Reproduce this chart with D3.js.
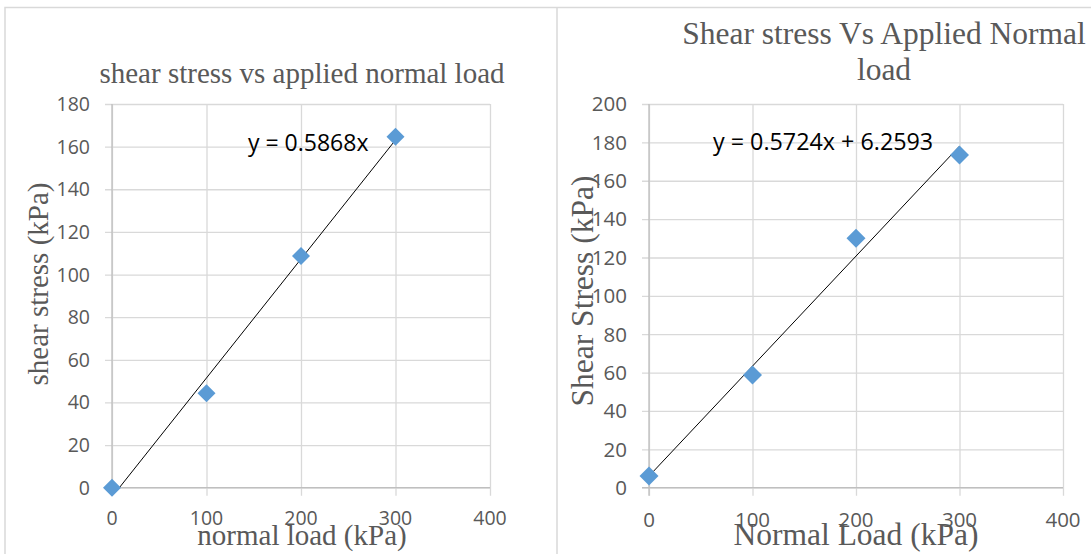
<!DOCTYPE html>
<html>
<head>
<meta charset="utf-8">
<script src="https://cdn.jsdelivr.net/npm/d3@7"></script>
<style>
  html, body { margin: 0; padding: 0; background: #fff; }
  svg { display: block; }
  .tick-label { font-family: "Open Sans", "Liberation Sans", sans-serif; fill: #595959; }
  .serif { font-family: "Liberation Serif", "DejaVu Serif", serif; fill: #595959; }
  .eq { font-family: "Open Sans", "Liberation Sans", sans-serif; fill: #000; }
</style>
</head>
<body>
<script>
// Direct shear test results: normal load (kPa) against measured shear stress (kPa)
const normalLoad = [0, 100, 200, 300];

const shearStressA = [0, 44.3, 108.7, 164.6];
const shearStressB = [6.1, 58.7, 130, 173.4];

const xTicks = [0, 100, 200, 300, 400];
const yTicksA = [0, 20, 40, 60, 80, 100, 120, 140, 160, 180];
const yTicksB = [0, 20, 40, 60, 80, 100, 120, 140, 160, 180, 200];

const equationA = "y = 0.5868x";
const equationB = "y = 0.5724x + 6.2593";

const W = 1091, H = 554;
const svg = d3.select("body").append("svg").attr("width", W).attr("height", H);

// Panel frames
const frame = svg.append("g").attr("fill", "none").attr("stroke", "#d9d9d9").attr("stroke-width", 1.5);
frame.append("path").attr("d", `M5,${H + 2}V7.5H${W + 2}`);
frame.append("line").attr("x1", 557).attr("x2", 557).attr("y1", 7.5).attr("y2", H + 2);

// Least-squares line through the points
function linearFit(xs, ys) {
  const mx = d3.mean(xs), my = d3.mean(ys);
  let sxy = 0, sxx = 0;
  xs.forEach((x, i) => { sxy += (x - mx) * (ys[i] - my); sxx += (x - mx) * (x - mx); });
  const m = sxy / sxx;
  return { m, b: my - m * mx };
}

function drawChart(cfg) {
  const g = svg.append("g");
  const x = d3.scaleLinear().domain([0, 400]).range([cfg.x0, cfg.x1]);
  const y = d3.scaleLinear().domain([0, cfg.yMax]).range([cfg.y0, cfg.y1]);

  // horizontal gridlines + y ticks
  const yAxis = d3.axisLeft(y).tickValues(cfg.yTicks).tickSize(-(cfg.x1 - cfg.x0)).tickFormat("");
  const gy = g.append("g").attr("transform", `translate(${cfg.x0},0)`).call(yAxis);
  gy.select(".domain").remove();
  gy.selectAll(".tick line").attr("stroke", "#d9d9d9").attr("stroke-width", 1.3)
    .attr("x1", -7);
  // vertical gridlines + x ticks
  const xAxis = d3.axisBottom(x).tickValues(xTicks).tickSize(-(cfg.y0 - cfg.y1)).tickFormat("");
  const gx = g.append("g").attr("transform", `translate(0,${cfg.y0})`).call(xAxis);
  gx.select(".domain").remove();
  gx.selectAll(".tick line").attr("stroke", "#d9d9d9").attr("stroke-width", 1.3)
    .attr("y1", 8);

  // axis lines
  g.append("line").attr("x1", x(0)).attr("x2", x(0)).attr("y1", cfg.y1).attr("y2", cfg.y0 + 8)
    .attr("stroke", "#bfbfbf").attr("stroke-width", 1.3);
  g.append("line").attr("x1", cfg.x0 - 7).attr("x2", cfg.x1).attr("y1", y(0)).attr("y2", y(0))
    .attr("stroke", "#bfbfbf").attr("stroke-width", 1.3);

  // tick labels
  g.append("g").selectAll("text").data(cfg.yTicks).join("text")
    .attr("class", "tick-label").attr("x", cfg.x0 - 22).attr("y", d => y(d))
    .attr("dy", "0.36em").attr("text-anchor", "end").attr("font-size", cfg.tickSize).text(d => d);
  g.append("g").selectAll("text").data(xTicks).join("text")
    .attr("class", "tick-label").attr("x", d => x(d)).attr("y", cfg.xLabelY)
    .attr("text-anchor", "middle").attr("font-size", cfg.tickSize).text(d => d);

  // trendline, clipped to the plot's y range
  const fit = linearFit(normalLoad, cfg.values);
  const xa = Math.max(0, -fit.b / fit.m), xb = d3.max(normalLoad);
  g.append("line").attr("x1", x(xa)).attr("y1", y(fit.m * xa + fit.b))
    .attr("x2", x(xb)).attr("y2", y(fit.m * xb + fit.b))
    .attr("stroke", "#000").attr("stroke-width", 1);

  // markers
  const diamond = d3.symbol().type(d3.symbolSquare).size(cfg.marker * cfg.marker * 2);
  g.append("g").selectAll("path").data(cfg.values).join("path")
    .attr("d", diamond)
    .attr("transform", (d, i) => `translate(${x(normalLoad[i])},${y(d)}) rotate(45)`)
    .attr("fill", "#5b9bd5");

  // equation
  g.append("text").attr("class", "eq").attr("x", cfg.eqX).attr("y", cfg.eqY)
    .attr("font-size", cfg.eqSize).text(cfg.equation);

  // titles
  cfg.title.forEach((t, i) => {
    g.append("text").attr("class", "serif").attr("x", cfg.titleX).attr("y", cfg.titleY + i * cfg.titleLead)
      .attr("text-anchor", "middle").attr("font-size", cfg.titleSize).text(t);
  });
  g.append("text").attr("class", "serif").attr("x", cfg.xTitleX).attr("y", cfg.xTitleY)
    .attr("text-anchor", "middle").attr("font-size", cfg.titleSize).text(cfg.xTitle);
  g.append("text").attr("class", "serif")
    .attr("transform", `translate(${cfg.yTitleX},${cfg.yTitleY}) rotate(-90)`)
    .attr("text-anchor", "middle").attr("font-size", cfg.titleSize).text(cfg.yTitle);
}

drawChart({
  x0: 112, x1: 490, y0: 487.7, y1: 104, yMax: 180, yTicks: yTicksA, values: shearStressA,
  tickSize: 19.5, xLabelY: 525, marker: 9,
  equation: equationA, eqX: 248, eqY: 151, eqSize: 23,
  title: ["shear stress vs applied normal load"], titleX: 302, titleY: 83, titleLead: 0, titleSize: 29,
  xTitle: "normal load (kPa)", xTitleX: 302, xTitleY: 545,
  yTitle: "shear stress (kPa)", yTitleX: 48, yTitleY: 284
});

drawChart({
  x0: 649, x1: 1063, y0: 487.7, y1: 104, yMax: 200, yTicks: yTicksB, values: shearStressB,
  tickSize: 20.5, xLabelY: 527, marker: 9.5,
  equation: equationB, eqX: 713, eqY: 150, eqSize: 23.3,
  title: ["Shear stress Vs Applied Normal", "load"], titleX: 884, titleY: 44, titleLead: 36, titleSize: 31.5,
  xTitle: "Normal Load (kPa)", xTitleX: 856, xTitleY: 545,
  yTitle: "Shear Stress (kPa)", yTitleX: 593, yTitleY: 291
});
</script>
</body>
</html>
